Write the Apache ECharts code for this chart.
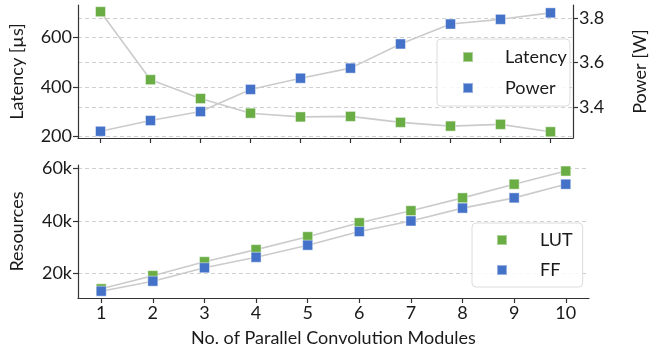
<!DOCTYPE html>
<html>
<head>
<meta charset="utf-8">
<script src="https://cdn.jsdelivr.net/npm/echarts@6/dist/echarts.min.js"></script>
<style>
  html, body { margin: 0; padding: 0; background: #fff; }
  #chart { width: 657px; height: 351px; }
</style>
</head>
<body>
<div id="chart"></div>
<script>
const modules = [1, 2, 3, 4, 5, 6, 7, 8, 9, 10];
const latency = [703, 429, 353, 294, 279, 281, 257, 242, 249, 219];
const power = [3.293, 3.341, 3.381, 3.48, 3.53, 3.575, 3.683, 3.772, 3.793, 3.822];
const lut = [14200, 19200, 24500, 29100, 34000, 39300, 43900, 48800, 54000, 59000];
const ff = [13300, 17100, 22200, 26200, 30800, 36000, 40000, 44900, 48800, 54000];
const latencyTicks = [200, 400, 600];
const powerTicks = [3.4, 3.6, 3.8];
const resourceTicks = [20000, 40000, 60000];

const GREEN = "#6aad45";
const BLUE = "#4472c8";
const FONT = "Lato";

const pairs = (ys) => modules.map((x, i) => [x, ys[i]]);

const chart = echarts.init(document.getElementById("chart"), null, { renderer: "canvas" });

const axisLine = { show: true, lineStyle: { color: "#333", width: 1.2 } };
const axisTick = (vals) => ({ show: true, length: 5, inside: false, customValues: vals, lineStyle: { color: "#333", width: 1.2 } });
const splitLine = { show: true, lineStyle: { color: "#d0d0d0", type: [4, 3], width: 1 } };
const label = (vals, fmt) => ({ show: true, customValues: vals, color: "#1a1a1a", fontFamily: FONT, fontSize: 18, margin: 6, formatter: fmt });

function xAxis(gridIndex, showLabel) {
  return {
    type: "value", gridIndex: gridIndex, min: 0.55, max: 10.45,
    axisLine: axisLine, axisTick: axisTick(modules),
    axisLabel: showLabel ? label(modules) : { show: false, customValues: modules },
    splitLine: { show: false },
    name: showLabel ? "No. of Parallel Convolution Modules" : "",
    nameLocation: "middle", nameGap: 31,
    nameTextStyle: { color: "#1a1a1a", fontFamily: FONT, fontSize: 18 },
  };
}

function lineSeries(name, x, y, data, color) {
  return {
    name: name, type: "line", xAxisIndex: x, yAxisIndex: y, data: pairs(data),
    symbol: "rect", symbolSize: 10, showSymbol: true,
    lineStyle: { color: "#cbcbcb", width: 1.6 },
    itemStyle: { color: color, borderColor: "rgba(255,255,255,0.45)", borderWidth: 1 },
    emphasis: { disabled: true }, animation: false,
  };
}

const option = {
  backgroundColor: "#fff",
  animation: false,
  grid: [
    { left: 77, right: 68, top: 5, height: 133 },
    { left: 77, right: 68, top: 165, height: 133 },
  ],
  xAxis: [xAxis(0, false), xAxis(1, true)],
  yAxis: [
    {
      type: "value", gridIndex: 0, min: 194, max: 730, position: "left",
      axisLine: axisLine, axisTick: axisTick(latencyTicks), splitLine: splitLine,
      axisLabel: label(latencyTicks),
      name: "Latency [µs]", nameLocation: "middle", nameRotate: 90, nameGap: 52,
      nameTextStyle: { color: "#1a1a1a", fontFamily: FONT, fontSize: 18 },
    },
    {
      type: "value", gridIndex: 0, min: 3.263, max: 3.857, position: "right",
      axisLine: axisLine, axisTick: axisTick(powerTicks), splitLine: splitLine,
      axisLabel: label(powerTicks, (v) => v.toFixed(1)),
      name: "Power [W]", nameLocation: "middle", nameRotate: 90, nameGap: 58,
      nameTextStyle: { color: "#1a1a1a", fontFamily: FONT, fontSize: 18 },
    },
    {
      type: "value", gridIndex: 1, min: 10700, max: 61300, position: "left",
      axisLine: axisLine, axisTick: axisTick(resourceTicks), splitLine: splitLine,
      axisLabel: label(resourceTicks, (v) => (v / 1000) + "k"),
      name: "Resources", nameLocation: "middle", nameRotate: 90, nameGap: 52,
      nameTextStyle: { color: "#1a1a1a", fontFamily: FONT, fontSize: 18 },
    },
  ],
  legend: [
    {
      data: ["Latency", "Power"], orient: "vertical", left: 437, top: 39,
      icon: "rect", itemWidth: 10, itemHeight: 10, itemGap: 13,
      padding: [9, 3, 9, 25], borderColor: "#dcdcdc", borderWidth: 1, borderRadius: 4,
      backgroundColor: "rgba(255,255,255,0.85)",
      textStyle: { color: "#1a1a1a", fontFamily: FONT, fontSize: 18, padding: [0, 0, 0, 27] },
    },
    {
      data: ["LUT", "FF"], orient: "vertical", left: 472, top: 223,
      icon: "rect", itemWidth: 10, itemHeight: 10, itemGap: 12,
      padding: [8, 10, 8, 24], borderColor: "#dcdcdc", borderWidth: 1, borderRadius: 4,
      backgroundColor: "rgba(255,255,255,0.85)",
      textStyle: { color: "#1a1a1a", fontFamily: FONT, fontSize: 18, padding: [0, 0, 0, 28] },
    },
  ],
  series: [
    lineSeries("Latency", 0, 0, latency, GREEN),
    lineSeries("Power", 0, 1, power, BLUE),
    lineSeries("LUT", 1, 2, lut, GREEN),
    lineSeries("FF", 1, 2, ff, BLUE),
  ],
};

chart.setOption(option);
</script>
</body>
</html>
